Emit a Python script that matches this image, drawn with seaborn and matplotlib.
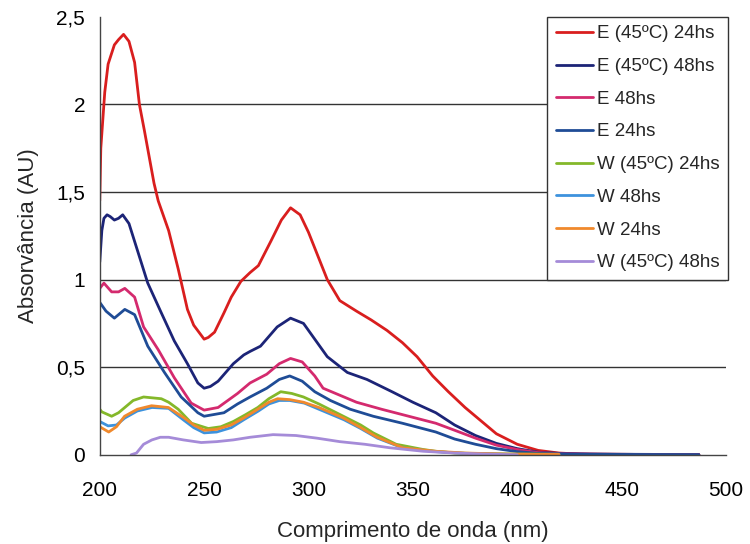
import numpy as np
import pandas as pd
import matplotlib
matplotlib.use("Agg")
import matplotlib.pyplot as plt
import seaborn as sns

sns.set_style("white")
plt.rcParams['font.family'] = ['Liberation Sans', 'DejaVu Sans']

# E (45ºC) 24hs
e45_24_x = [200, 200.5, 202.4, 204, 207, 209, 211.4, 214, 216.7, 219, 221.4, 226, 228, 233, 237.6, 242, 245,
            250, 252, 255, 259.5, 263, 267.6, 272, 276, 282, 287, 291.4, 296, 300, 304, 309, 315, 323, 330,
            337.6, 345, 352, 359.5, 367, 375, 383, 390, 400, 410, 420, 430, 445, 460, 475, 487]
e45_24_y = [1.45, 1.75, 2.07, 2.23, 2.34, 2.37, 2.40, 2.36, 2.24, 2.0, 1.85, 1.55, 1.45, 1.28, 1.06, 0.83, 0.74,
            0.66, 0.67, 0.70, 0.81, 0.90, 0.99, 1.04, 1.08, 1.22, 1.34, 1.41, 1.37, 1.27, 1.15, 1.0, 0.88, 0.82, 0.77,
            0.71, 0.64, 0.56, 0.45, 0.36, 0.27, 0.19, 0.12, 0.06, 0.025, 0.01, 0.004, 0.003, 0.002, 0.002, 0.001]

# E (45ºC) 48hs
e45_48_x = [200, 201, 202, 203.5, 205, 207, 209, 211, 214, 218.5, 223, 229.5, 235.7, 242, 247, 250, 253, 256.7,
            264, 269, 272, 277, 285, 291.4, 297.6, 303, 309, 318.6, 328, 340, 350, 361, 370, 380, 390, 400, 410,
            420, 435, 450, 470, 487]
e45_48_y = [1.10, 1.28, 1.35, 1.37, 1.36, 1.34, 1.35, 1.37, 1.32, 1.15, 0.98, 0.81, 0.65, 0.52, 0.41, 0.38, 0.39, 0.42,
            0.52, 0.57, 0.59, 0.62, 0.73, 0.78, 0.75, 0.66, 0.56, 0.47, 0.43, 0.36, 0.30, 0.24, 0.17, 0.11, 0.065, 0.035,
            0.015, 0.008, 0.004, 0.003, 0.002, 0.001]

# E 48hs
e48_x = [200, 202, 205.7, 209, 212, 216.7, 221, 228, 235.7, 243.8, 250, 256.7, 266, 272, 280, 286, 291.4, 297,
         303, 307, 315, 323, 335, 348, 361, 370, 380, 390, 400, 410, 420, 440, 460, 487]
e48_y = [0.95, 0.98, 0.93, 0.93, 0.95, 0.90, 0.73, 0.60, 0.44, 0.295, 0.255, 0.27, 0.35, 0.41, 0.46, 0.52, 0.55, 0.53,
         0.45, 0.38, 0.34, 0.30, 0.26, 0.22, 0.18, 0.14, 0.095, 0.055, 0.03, 0.012, 0.006, 0.003, 0.002, 0.001]

# E 24hs
e24_x = [200, 203, 207, 210, 212, 216.7, 223, 231, 239, 247, 250, 259.5, 266, 272, 280, 286, 291, 297, 303,
         310.5, 320, 331, 345, 361, 370, 380, 390, 400, 410, 425, 450, 487]
e24_y = [0.87, 0.82, 0.78, 0.81, 0.83, 0.80, 0.62, 0.47, 0.33, 0.24, 0.22, 0.24, 0.29, 0.33, 0.38, 0.43, 0.45, 0.42,
         0.36, 0.31, 0.26, 0.22, 0.18, 0.13, 0.09, 0.06, 0.035, 0.018, 0.008, 0.004, 0.002, 0.001]

# W (45ºC) 24hs
w45_24_x = [200, 201, 205.7, 209, 212, 216, 221, 229.5, 233, 237.6, 244, 252, 258, 264, 270, 275.7, 281, 286.7,
            292, 297.6, 305, 316.7, 325, 331, 342, 355, 361, 370, 390, 420]
w45_24_y = [0.26, 0.245, 0.22, 0.24, 0.27, 0.31, 0.33, 0.32, 0.30, 0.26, 0.18, 0.15, 0.16, 0.19, 0.23, 0.27, 0.32, 0.36,
            0.35, 0.33, 0.29, 0.22, 0.17, 0.125, 0.06, 0.03, 0.02, 0.01, 0.005, 0.003]

# W 48hs
w48_x = [200, 204, 208, 212, 218, 225, 233, 240, 245, 250, 256, 263, 269, 276, 281, 286, 291, 298, 305, 317,
         325, 333, 345, 361, 375, 395, 420]
w48_y = [0.19, 0.165, 0.17, 0.21, 0.25, 0.27, 0.265, 0.20, 0.155, 0.125, 0.13, 0.155, 0.20, 0.25, 0.29, 0.31, 0.31,
         0.295, 0.26, 0.20, 0.15, 0.095, 0.04, 0.018, 0.008, 0.003, 0.001]

# W 24hs
w24_x = [200, 204.3, 208, 211.9, 218, 224.8, 232.9, 240.5, 245, 250, 256, 262.9, 269, 275.7, 281, 285.2, 291,
         297.6, 305, 316.7, 325, 332.9, 345.2, 361, 375, 395, 420]
w24_y = [0.16, 0.13, 0.16, 0.22, 0.26, 0.28, 0.27, 0.21, 0.17, 0.14, 0.145, 0.17, 0.21, 0.26, 0.30, 0.32, 0.315,
         0.30, 0.27, 0.21, 0.155, 0.10, 0.04, 0.02, 0.01, 0.004, 0.002]

# W (45ºC) 48hs
w45_48_x = [215, 217.6, 221, 225, 229, 233, 240, 248.6, 256, 264, 272, 283, 294, 304, 315, 327, 339, 355, 370,
            385, 400]
w45_48_y = [0.0, 0.01, 0.06, 0.085, 0.10, 0.10, 0.085, 0.07, 0.075, 0.085, 0.10, 0.115, 0.11, 0.095, 0.075, 0.06,
            0.04, 0.02, 0.01, 0.004, 0.0]

labels = ["E (45ºC) 24hs", "E (45ºC) 48hs", "E 48hs", "E 24hs",
          "W (45ºC) 24hs", "W 48hs", "W 24hs", "W (45ºC) 48hs"]
colors = ["#d91e1e", "#1c2477", "#d42a6e", "#1f4c96",
          "#84b82a", "#3d92dd", "#f0892c", "#a58bd8"]
xs = [e45_24_x, e45_48_x, e48_x, e24_x, w45_24_x, w48_x, w24_x, w45_48_x]
ys = [e45_24_y, e45_48_y, e48_y, e24_y, w45_24_y, w48_y, w24_y, w45_48_y]

yticks = [0, 0.5, 1, 1.5, 2, 2.5]
ytick_labels = ["0", "0,5", "1", "1,5", "2", "2,5"]
xticks = [200, 250, 300, 350, 400, 450, 500]

fig = plt.figure(figsize=(7.5, 5.44), dpi=100)
ax = fig.add_axes([0.133, 0.164, 0.835, 0.805])

for yv in yticks[1:-1]:
    ax.axhline(yv, color="#333333", lw=1.0, zorder=0)

for x, y, lab, c in zip(xs, ys, labels, colors):
    sns.lineplot(x=x, y=y, ax=ax, color=c, lw=2.0, label=lab, sort=False)

ax.set_xlim(200, 500)
ax.set_ylim(0, 2.5)
ax.set_xticks(xticks)
ax.set_xticklabels([str(t) for t in xticks])
ax.set_yticks(yticks)
ax.set_yticklabels(ytick_labels)
ax.tick_params(axis="x", direction="out", length=6, width=1, labelsize=15, color="#444444",
               labelcolor="black", pad=13)
ax.tick_params(axis="y", direction="inout", length=9, width=1, labelsize=15, color="#444444",
               labelcolor="black", pad=6)
for s in ["top", "right"]:
    ax.spines[s].set_visible(False)
for s in ["left", "bottom"]:
    ax.spines[s].set_color("#444444")
    ax.spines[s].set_linewidth(1.0)

ax.set_xlabel("Comprimento de onda (nm)", fontsize=16, labelpad=15)
ax.set_ylabel("Absorvância (AU)", fontsize=16, labelpad=12)

leg = ax.legend(loc="upper right", bbox_to_anchor=(1.003, 1.0), borderaxespad=0, fontsize=13.5,
                frameon=True, fancybox=False, edgecolor="#333333", framealpha=1,
                handlelength=2.0, handletextpad=0.2, labelspacing=0.83, borderpad=0.45)
leg.get_frame().set_linewidth(1.0)

fig.savefig("out.png", dpi=100)
